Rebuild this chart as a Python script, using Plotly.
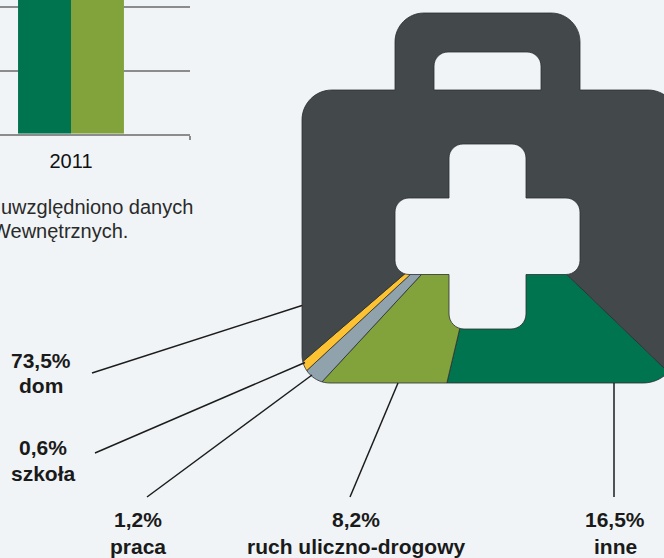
import math
import plotly.graph_objects as go

W, H = 664, 558
BG = "#f0f4f6"
DARK = "#43494b"
EDGE = "#2b2f31"
FONT = "Liberation Sans"

# Data
years = [2011]
bar_series_names = ["seria 1", "seria 2"]
bar_series_values = [[3500], [3500]]   # tops are cropped out of the picture
bar_colors = ["#00734f", "#82a33c"]
y_grid = [0, 1000, 2000, 3000]

place_labels = ["inne", "ruch uliczno-drogowy", "praca", "szkoła", "dom"]
place_shares = [16.5, 8.2, 1.2, 0.6, 73.5]
place_share_text = ["16,5%", "8,2%", "1,2%", "0,6%", "73,5%"]
place_colors = ["#00734f", "#82a33c", "#90a2ac", "#fdc232", DARK]

note_lines = ["uwzględniono danych", "Wewnętrznych."]


def px(x):
    return x / W


def py(y):
    return 1 - y / H


def rounded(points):
    """Closed SVG path through (x, y, radius) corners."""
    n = len(points)
    parts = []
    for i, (x, y, r) in enumerate(points):
        prev_x, prev_y, _ = points[i - 1]
        nx, ny, _ = points[(i + 1) % n]
        if r == 0:
            parts.append(("M" if i == 0 else "L") + f"{x},{y}")
            continue
        d1 = math.hypot(prev_x - x, prev_y - y)
        d2 = math.hypot(nx - x, ny - y)
        ax, ay = x + (prev_x - x) * r / d1, y + (prev_y - y) * r / d1
        bx, by = x + (nx - x) * r / d2, y + (ny - y) * r / d2
        k = 0.5523
        c1x, c1y = ax + (x - ax) * k, ay + (y - ay) * k
        c2x, c2y = bx + (x - bx) * k, by + (y - by) * k
        parts.append(("M" if i == 0 else "L") + f"{ax:.2f},{ay:.2f}")
        parts.append(f"C{c1x:.2f},{c1y:.2f} {c2x:.2f},{c2y:.2f} {bx:.2f},{by:.2f}")
    return " ".join(parts) + " Z"


bag_outer = rounded([(302, 90, 30), (395, 90, 0), (395, 13, 29), (580, 13, 29), (580, 90, 0),
                     (678, 90, 30), (678, 383, 35), (302, 383, 28)])
handle_hole = rounded([(434, 90, 0), (434, 52, 14), (541, 52, 14), (541, 90, 0)])
cross_hole = rounded([(449, 144, 14), (526, 144, 14), (526, 198, 0), (580, 198, 14),
                      (580, 274.5, 14), (526, 274.5, 0), (526, 329, 15), (449, 329, 15),
                      (449, 274.5, 0), (395, 274.5, 14), (395, 198, 14), (449, 198, 0)])
bag_shape = " ".join([bag_outer, handle_hole, cross_hole])
mask_rect = "M285,-10 L680,-10 L680,570 L285,570 Z"

fig = go.Figure()

# Bar chart (cropped at the top and left)
for name, vals, col in zip(bar_series_names, bar_series_values, bar_colors):
    fig.add_trace(go.Bar(x=years, y=vals, name=name, marker=dict(color=col, line=dict(width=0)),
                         xaxis="x2", yaxis="y2", showlegend=False))

# Wedges of a pie centred behind the bag; the mask shape keeps them inside it
cx, cy = 490, 200.5
R = 420
angle = 46.1
for label, share, col in zip(place_labels, place_shares, place_colors):
    sweep = share * 3.6
    steps = max(2, int(sweep / 5))
    xs, ys = [cx], [cy]
    for s in range(steps + 1):
        t = math.radians(angle - sweep * s / steps)
        xs.append(cx + R * math.sin(t))
        ys.append(cy + R * math.cos(t))
    xs.append(cx)
    ys.append(cy)
    fig.add_trace(go.Scatter(x=xs, y=ys, mode="lines", fill="toself", fillcolor=col, name=label,
                             line=dict(color=EDGE, width=0.8), showlegend=False, hoverinfo="name"))
    angle -= sweep

shapes = [
    dict(type="path", path=mask_rect + " " + bag_shape, xref="x", yref="y", fillcolor=BG,
         line=dict(width=0), layer="above"),
    dict(type="path", path=bag_shape, xref="x", yref="y", fillcolor="rgba(0,0,0,0)",
         line=dict(color=EDGE, width=0.8), layer="above"),
]
leaders = [((92, 373), (302, 305.5)), ((95, 453), (305, 362.5)), ((147, 497), (312, 375)),
           ((350, 497), (398, 383)), ((614, 497), (614, 383))]
for (x0, y0), (x1, y1) in leaders:
    shapes.append(dict(type="line", x0=px(x0), y0=py(y0), x1=px(x1), y1=py(y1),
                       xref="paper", yref="paper",
                       line=dict(color="#1c1c1c", width=1.5), layer="above"))

label_pos = {"dom": (41, 360, 385), "szkoła": (43, 447, 473), "praca": (138, 519, 546),
             "ruch uliczno-drogowy": (356, 519, 546), "inne": (615, 519, 546)}
annotations = []
for label, txt in zip(place_labels, place_share_text):
    x, y1, y2 = label_pos[label]
    for t, y in ((txt, y1), (label, y2)):
        annotations.append(dict(x=px(x), y=py(y), text=f"<b>{t}</b>", xref="paper", yref="paper",
                                showarrow=False, xanchor="center", yanchor="middle",
                                font=dict(family=FONT, size=21, color="#1a1a1a")))
for t, y, xr in ((note_lines[0], 207, 195), (note_lines[1], 231, 129.5)):
    annotations.append(dict(x=px(xr), y=py(y), text=t, xref="paper", yref="paper", showarrow=False,
                            xanchor="right", yanchor="middle",
                            font=dict(family=FONT, size=20, color="#2a2a2a")))

GRID = "#8c8c8c"
fig.update_layout(
    width=W, height=H, autosize=False,
    margin=dict(l=0, r=0, t=0, b=0, pad=0),
    paper_bgcolor=BG, plot_bgcolor="rgba(0,0,0,0)",
    showlegend=False, shapes=shapes, annotations=annotations,
    barmode="group", bargap=0.555, bargroupgap=0,
    xaxis=dict(range=[285, W], domain=[285 / W, 1], visible=False, fixedrange=True),
    yaxis=dict(range=[H, 0], domain=[0, 1], visible=False, fixedrange=True),
    xaxis2=dict(domain=[0, 190 / W], range=[2011 - 71 / 238, 2011.5], anchor="y2",
                tickmode="array", tickvals=years, ticktext=[str(y) for y in years], ticks="",
                ticklabelstandoff=8, tickfont=dict(family=FONT, size=20, color="#111111"),
                showgrid=False, showline=True, linecolor=GRID, linewidth=2, zeroline=False,
                minor=dict(tickmode="array", tickvals=[2011.5], ticks="outside", ticklen=4,
                           tickwidth=2, tickcolor=GRID, showgrid=False)),
    yaxis2=dict(domain=[(H - 133.7) / H, 1], range=[0, 133.7 / 63.2 * 1000], anchor="x2",
                tickmode="array", tickvals=y_grid, showticklabels=False, ticks="",
                showgrid=True, gridcolor=GRID, gridwidth=2, zeroline=False, showline=False),
)

fig.write_html("out.html", config={"displayModeBar": False},
               post_script="document.body.style.margin='0';document.body.style.background='" + BG + "';")
